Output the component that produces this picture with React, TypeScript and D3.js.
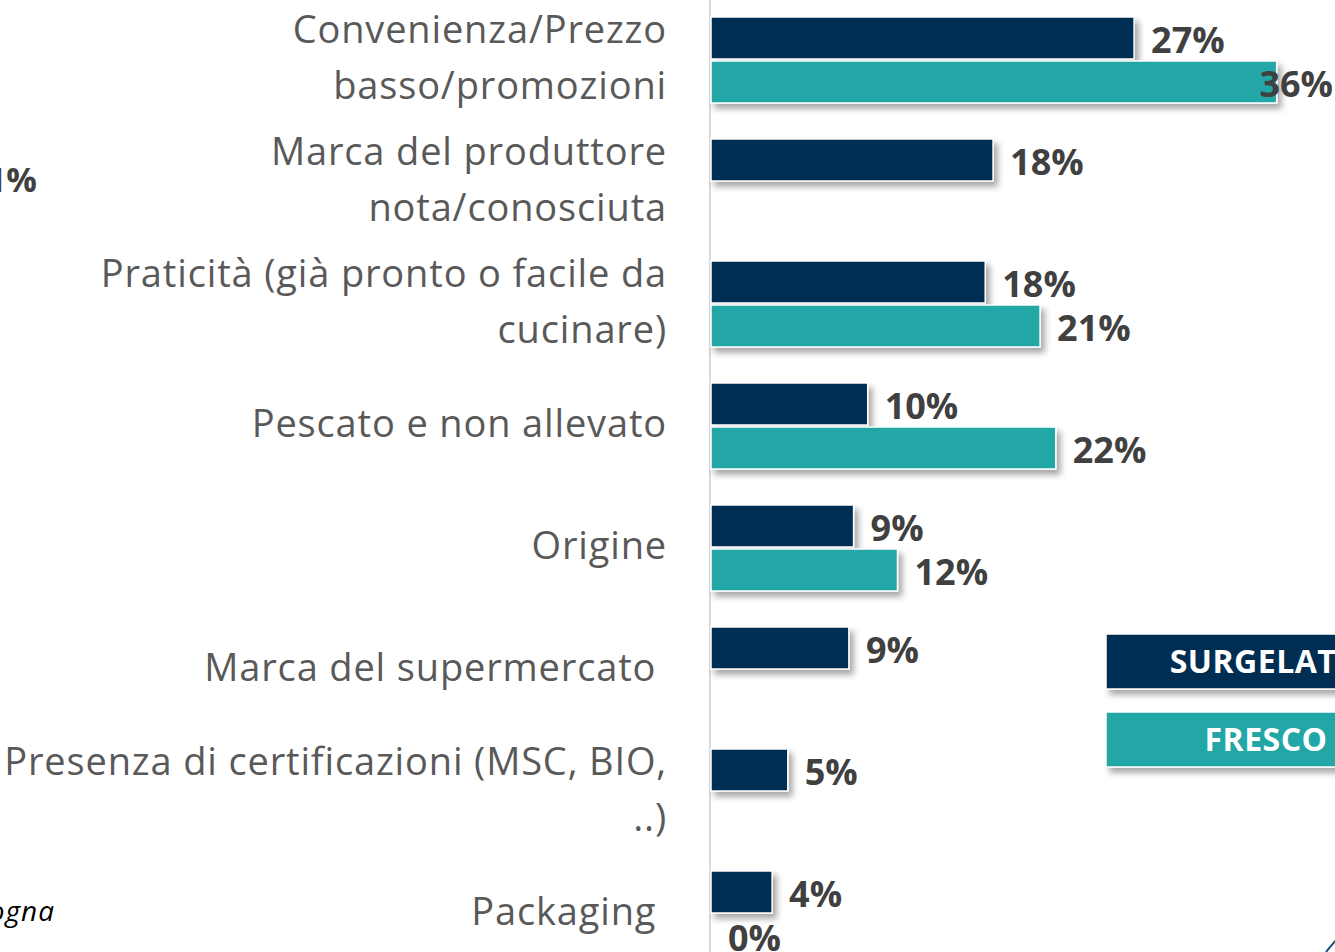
import React from "react";
import * as d3 from "d3";

const categories = [
  "Convenienza/Prezzo\nbasso/promozioni",
  "Marca del produttore\nnota/conosciuta",
  "Praticità (già pronto o facile da\ncucinare)",
  "Pescato e non allevato",
  "Origine",
  "Marca del supermercato ",
  "Presenza di certificazioni (MSC, BIO,\n..)",
  "Packaging ",
];
const surgelato: (number | null)[] = [27.0, 18.0, 17.5, 10.0, 9.1, 8.8, 4.9, 3.9];
const fresco: (number | null)[] = [36.1, null, 21.0, 22.0, 11.9, null, null, 0];
const seriesNames = ["SURGELATO", "FRESCO"];
const seriesKeys = ["surgelato", "fresco"];

const W = 1335;
const H = 952;
const NAVY = "#002D52";
const TEAL = "#21A6A6";
const FONT = "'Open Sans', 'Noto Sans', sans-serif";

export default function App() {
  const x = d3.scaleLinear().domain([0, 40]).range([711, 711 + 40 * 15.67]);
  const y = d3
    .scaleBand<string>()
    .domain(categories)
    .range([-1, 975])
    .paddingInner(0.295)
    .paddingOuter(0.1475);
  const ySub = d3
    .scaleBand<string>()
    .domain(seriesKeys)
    .range([0, y.bandwidth()])
    .paddingInner(0.0455);
  const colors = d3.scaleOrdinal<string, string>().domain(seriesKeys).range([NAVY, TEAL]);
  const data: Record<string, (number | null)[]> = { surgelato, fresco };

  const lineH = 56;

  return (
    <svg
      width={W}
      height={H}
      style={{ position: "absolute", left: 0, top: 0, background: "#fff" }}
      fontFamily={FONT}
    >
      <defs>
        <filter id="sh" x="-10%" y="-30%" width="130%" height="190%">
          <feDropShadow dx="4" dy="5" stdDeviation="3" floodColor="#000" floodOpacity="0.35" />
        </filter>
      </defs>
      <rect width={W} height={H} fill="#fff" />

      {/* remnants of neighbouring content */}
      <text x={37} y={180} dy="0.35em" textAnchor="end" fontSize={34} fontWeight={700} fill="#404040">
        41%
      </text>
      <text
        x={55}
        y={911}
        dy="0.35em"
        textAnchor="end"
        fontSize={28}
        letterSpacing={1}
        fontStyle="italic"
        fill="#000"
      >
        Bologna
      </text>

      {/* axis line */}
      <line x1={710} x2={710} y1={0} y2={H} stroke="#D9D9D9" strokeWidth={2} />

      {/* category labels */}
      {categories.map((c) => {
        const lines = c.split("\n");
        const cy = (y(c) as number) + y.bandwidth() / 2 - 2;
        const start = cy - ((lines.length - 1) * lineH) / 2;
        return (
          <text
            key={c}
            textAnchor="end"
            fontSize={38}
            letterSpacing={0.85}
            fill="#595959"
            style={{ whiteSpace: "pre" }}
          >
            {lines.map((l, i) => (
              <tspan key={i} x={667} y={start + i * lineH} dy="0.35em">
                {l}
              </tspan>
            ))}
          </text>
        );
      })}

      {/* bars */}
      {categories.map((c, ci) =>
        seriesKeys.map((k) => {
          const v = data[k][ci];
          if (v === null) return null;
          const y0 = (y(c) as number) + (ySub(k) as number);
          const w = x(v) - x(0);
          return (
            <g key={c + k}>
              {w > 0 && (
                <rect
                  x={x(0)}
                  y={y0}
                  width={w}
                  height={ySub.bandwidth()}
                  fill={colors(k)}
                  stroke="#fff"
                  strokeWidth={1.5}
                  filter="url(#sh)"
                />
              )}
            </g>
          );
        })
      )}

      {/* value labels */}
      {categories.map((c, ci) =>
        seriesKeys.map((k) => {
          const v = data[k][ci];
          if (v === null) return null;
          const yc = (y(c) as number) + (ySub(k) as number) + ySub.bandwidth() / 2 + 2;
          const xe = x(v) + 17;
          const overflow = xe + 80 > W;
          return (
            <text
              key={"l" + c + k}
              x={overflow ? W - 2 : xe}
              y={yc}
              dy="0.35em"
              textAnchor={overflow ? "end" : "start"}
              fontSize={36}
              fontWeight={700}
              fill="#404040"
            >
              {`${Math.round(v)}%`}
            </text>
          );
        })
      )}

      {/* legend */}
      {seriesKeys.map((k, i) => (
        <g key={"lg" + k}>
          <rect
            x={1106}
            y={634 + i * 78}
            width={320}
            height={55}
            fill={colors(k)}
            stroke="#fff"
            strokeWidth={1.5}
            filter="url(#sh)"
          />
          <text
            x={1266}
            y={634 + i * 78 + 27.5}
            dy="0.35em"
            textAnchor="middle"
            fontSize={32}
            letterSpacing={0.5}
            fontWeight={700}
            fill="#fff"
          >
            {seriesNames[i]}
          </text>
        </g>
      ))}

      {/* corner decoration */}
      <path d={`M${W - 9},${H} L${W + 1},${H - 12}`} stroke="#1F4E79" strokeWidth={2} fill="none" />
    </svg>
  );
}
